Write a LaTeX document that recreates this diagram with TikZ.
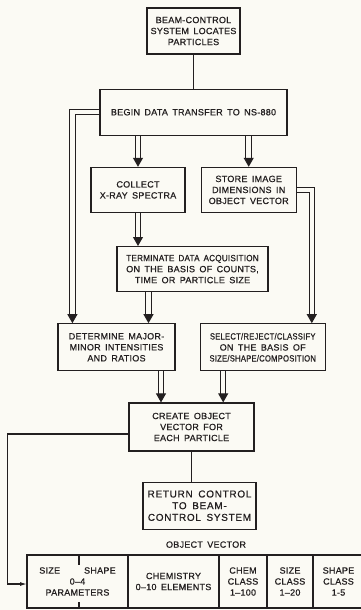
\documentclass[tikz,border=0pt]{standalone}
\usepackage{fontspec}
\setsansfont{Liberation Sans}[LetterSpace=3,WordSpace=1.6,FakeBold=0.7]
\usetikzlibrary{arrows.meta, positioning}
\definecolor{fundo}{RGB}{251,250,244}
\definecolor{tinta}{RGB}{35,31,32}
\begin{document}
\begin{tikzpicture}[
    x=1pt, y=1pt,
    line width=1.2pt,
    color=tinta,
    font=\sffamily\fontsize{9}{11}\selectfont,
    caixa/.style={draw, rectangle, align=center, minimum height=46pt, inner sep=2pt},
    celula/.style={draw, rectangle, align=center, minimum height=53pt, inner sep=2pt, outer sep=0pt},
    seta/.style={-{Latex[length=7pt, width=4pt]}},
    dupla/.style={double=fundo, double distance=4.5pt, line width=1pt, -{Triangle[length=9pt, width=10pt]}}
]
    \fill[fundo] (0,0) rectangle (361,-610);
    \useasboundingbox (0,0) rectangle (361,-610);

    \node[caixa, minimum width=93pt] (feixe) at (193.5,-31) {BEAM-CONTROL\\SYSTEM LOCATES\\PARTICLES};
    \node[caixa, minimum width=187pt, below=34pt of feixe] (inicio) {BEGIN DATA TRANSFER TO NS-880};
    \node[caixa, minimum width=94pt, minimum height=45pt, below=31pt of inicio, xshift=-55.5pt] (coleta) {COLLECT\\X-RAY SPECTRA};
    \node[caixa, minimum width=95pt, minimum height=45pt, right=15pt of coleta] (armazena) {STORE IMAGE\\DIMENSIONS IN\\OBJECT VECTOR};
    \node[caixa, minimum width=151pt, minimum height=45pt, below=33pt of coleta, xshift=54.5pt] (termino) {\scalebox{0.9}[1]{TERMINATE DATA ACQUISITION}\\ON THE BASIS OF COUNTS,\\TIME OR PARTICLE SIZE};
    \node[caixa, minimum width=117pt, minimum height=47pt, below=31pt of termino, xshift=-76pt] (determinacao) {DETERMINE MAJOR-\\MINOR INTENSITIES\\AND RATIOS};
    \node[caixa, minimum width=125pt, minimum height=47pt, right=24pt of determinacao] (selecao) {\scalebox{0.85}[1]{SELECT/REJECT/CLASSIFY}\\ON THE BASIS OF\\\scalebox{0.85}[1]{SIZE/SHAPE/COMPOSITION}};
    \node[caixa, minimum width=125pt, minimum height=48pt, below=31pt of determinacao, xshift=75pt] (criacao) {CREATE OBJECT\\VECTOR FOR\\EACH PARTICLE};
    \node[caixa, minimum width=113pt, minimum height=47pt, below=30pt of criacao, xshift=8pt, font=\sffamily\fontsize{10}{11.7}\selectfont\addfontfeatures{LetterSpace=7}] (retorno) {RETURN CONTROL\\TO BEAM-\\CONTROL SYSTEM};
    \node[below=9pt of retorno, xshift=6.5pt, inner sep=2pt] (rotulo) {OBJECT VECTOR};

    \node[celula, minimum width=101pt, anchor=north west] (tam) at (27,-555) {SIZE\hspace{24pt}SHAPE\\0--4\\PARAMETERS};
    \node[celula, minimum width=91pt, right=0pt of tam] (quim) {CHEMISTRY\\0--10 ELEMENTS};
    \node[celula, minimum width=48pt, right=0pt of quim] (cquim) {CHEM\\CLASS\\1--100};
    \node[celula, minimum width=46pt, right=0pt of cquim] (ctam) {SIZE\\CLASS\\1--20};
    \node[celula, minimum width=51pt, right=0pt of ctam] (cforma) {SHAPE\\CLASS\\1-5};
    \draw ([xshift=1.5pt]tam.north) -- ++(0,-10pt);
    \draw ([xshift=1.5pt]tam.south) -- ++(0,6pt);

    \draw (feixe) -- (inicio);
    \draw (criacao.south) -- (criacao.south |- retorno.north);

    \draw[dupla] (coleta.north |- inicio.south) -- (coleta.north);
    \draw[dupla] (armazena.north |- inicio.south) -- (armazena.north);
    \draw[dupla] (coleta.south) -- (coleta.south |- termino.north);
    \draw[dupla] ([xshift=-44pt]termino.south) -- ([xshift=-44pt]termino.south |- determinacao.north);
    \draw[dupla] (inicio.west) -| ([xshift=15pt]determinacao.north west);
    \draw[dupla] (armazena.east) -| ([xshift=-14pt]selecao.north east);
    \draw[dupla] ([xshift=44.5pt]determinacao.south) -- ([xshift=44.5pt]determinacao.south |- criacao.north);
    \draw[dupla] ([xshift=-39.5pt]selecao.south) -- ([xshift=-39.5pt]selecao.south |- criacao.north);

    \draw[seta] ([yshift=-7pt]criacao.west) -- ++(-121pt,0) |- ([yshift=-2.5pt]tam.west);
\end{tikzpicture}
\end{document}
